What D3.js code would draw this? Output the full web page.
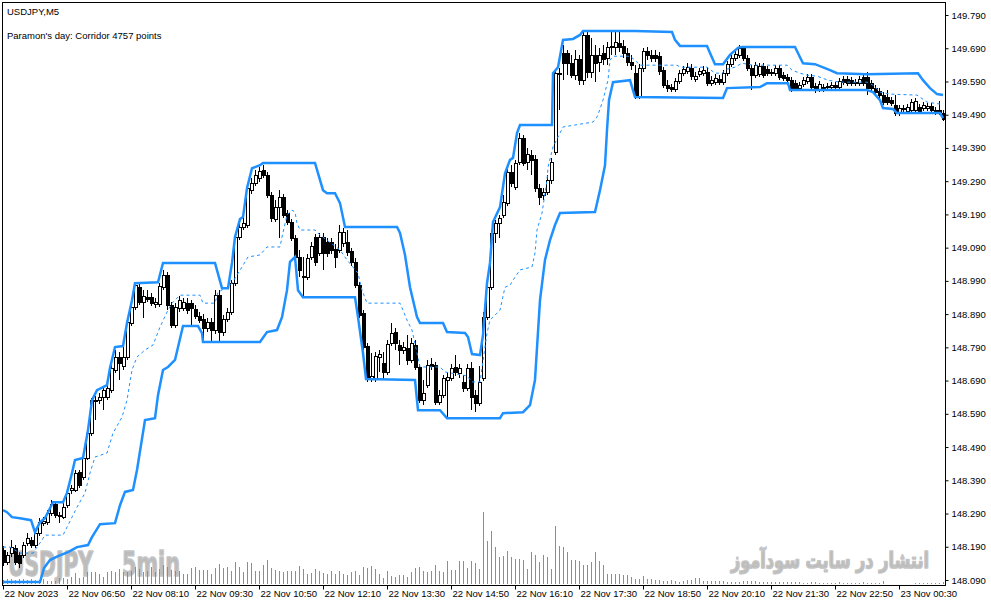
<!DOCTYPE html>
<html>
<head>
<meta charset="utf-8">
<script src="https://cdnjs.cloudflare.com/ajax/libs/d3/7.8.5/d3.min.js"></script>
<style>
body { margin: 0; background: #fff; }
svg text { font-family: "Liberation Sans", Arial, sans-serif; }
</style>
</head>
<body>
<svg id="chart" width="991" height="605"></svg>
<script>
// USDJPY M5, one row per bar: [open, high, low, close]
var candles = [
[148.180,148.192,148.132,148.144],[148.144,148.174,148.135,148.165],[148.171,148.210,148.159,148.189],[148.186,148.195,148.135,148.144],
[148.165,148.174,148.126,148.141],[148.165,148.204,148.156,148.195],[148.201,148.231,148.192,148.216],[148.210,148.219,148.186,148.195],
[148.195,148.240,148.186,148.231],[148.231,148.276,148.222,148.264],[148.261,148.279,148.252,148.267],[148.264,148.300,148.255,148.291],
[148.291,148.331,148.282,148.318],[148.318,148.324,148.276,148.285],[148.285,148.294,148.261,148.282],[148.279,148.321,148.273,148.309],
[148.315,148.367,148.306,148.352],[148.361,148.376,148.349,148.367],[148.361,148.421,148.355,148.412],[148.415,148.421,148.367,148.376],
[148.400,148.466,148.391,148.457],[148.457,148.541,148.451,148.532],[148.532,148.637,148.523,148.631],[148.631,148.643,148.571,148.628],
[148.631,148.652,148.619,148.640],[148.640,148.670,148.601,148.661],[148.640,148.677,148.631,148.668],[148.661,148.737,148.652,148.728],
[148.722,148.782,148.713,148.761],[148.761,148.776,148.692,148.743],[148.734,148.797,148.722,148.761],[148.761,148.878,148.752,148.866],
[148.863,148.923,148.854,148.911],[148.911,148.986,148.902,148.977],[148.971,148.983,148.917,148.926],[148.926,148.962,148.878,148.944],
[148.941,148.962,148.926,148.935],[148.941,148.953,148.914,148.923],[148.920,148.938,148.908,148.926],[148.920,148.983,148.911,148.974],
[148.971,149.023,148.962,149.008],[149.008,149.017,148.902,148.917],[148.917,148.926,148.848,148.857],[148.857,148.923,148.848,148.911],
[148.908,148.944,148.896,148.932],[148.908,148.938,148.899,148.926],[148.923,148.938,148.890,148.902],[148.923,148.932,148.854,148.908],
[148.905,148.917,148.875,148.884],[148.884,148.896,148.863,148.872],[148.875,148.890,148.806,148.848],[148.848,148.878,148.836,148.866],
[148.866,148.878,148.806,148.842],[148.842,148.962,148.830,148.947],[148.947,148.962,148.806,148.836],[148.836,148.887,148.824,148.875],
[148.875,148.908,148.866,148.896],[148.896,148.992,148.887,148.983],[148.983,149.131,148.974,149.122],[149.122,149.161,149.113,149.152],
[149.152,149.182,149.143,149.164],[149.158,149.278,149.149,149.269],[149.263,149.299,149.251,149.284],[149.284,149.323,149.275,149.308],
[149.299,149.332,149.287,149.320],[149.323,149.338,149.299,149.308],[149.308,149.317,149.239,149.248],[149.248,149.257,149.167,149.179],
[149.176,149.233,149.167,149.212],[149.212,149.263,149.119,149.242],[149.242,149.251,149.179,149.188],[149.194,149.203,149.158,149.167],
[149.167,149.176,149.110,149.119],[149.119,149.128,149.053,149.062],[149.062,149.083,149.002,149.023],[149.005,149.062,148.941,149.002],
[149.002,149.071,148.993,149.059],[149.062,149.107,149.053,149.095],[149.122,149.131,149.035,149.047],[149.074,149.134,149.065,149.122],
[149.122,149.134,149.023,149.074],[149.107,149.119,149.062,149.074],[149.107,149.119,149.071,149.083],[149.086,149.101,149.029,149.062],
[149.083,149.158,149.074,149.137],[149.104,149.149,149.092,149.137],[149.107,149.143,149.065,149.077],[149.080,149.089,149.035,149.047],
[149.047,149.059,148.968,148.977],[148.977,148.986,148.878,148.887],[148.893,148.902,148.782,148.791],[148.794,148.803,148.686,148.695],
[148.695,148.773,148.686,148.704],[148.695,148.776,148.686,148.764],[148.761,148.782,148.716,148.770],[148.743,148.776,148.692,148.716],
[148.716,148.812,148.707,148.800],[148.803,148.863,148.794,148.833],[148.836,148.848,148.782,148.803],[148.797,148.812,148.737,148.782],
[148.782,148.806,148.770,148.791],[148.788,148.827,148.737,148.752],[148.752,148.818,148.743,148.803],[148.797,148.812,148.722,148.731],
[148.731,148.740,148.622,148.631],[148.631,148.692,148.616,148.652],[148.677,148.752,148.668,148.737],[148.740,148.758,148.722,148.734],
[148.737,148.746,148.616,148.625],[148.625,148.661,148.616,148.646],[148.646,148.707,148.637,148.698],[148.692,148.716,148.577,148.701],
[148.698,148.740,148.689,148.728],[148.731,148.767,148.704,148.716],[148.713,148.740,148.698,148.728],[148.686,148.707,148.655,148.668],
[148.668,148.740,148.658,148.728],[148.728,148.746,148.601,148.640],[148.646,148.661,148.595,148.622],[148.622,148.734,148.613,148.686],
[148.698,148.896,148.689,148.881],[148.881,148.983,148.872,148.971],[148.971,149.143,148.962,149.134],[149.134,149.173,149.104,149.164],
[149.164,149.188,149.119,149.179],[149.188,149.248,149.179,149.227],[149.224,149.329,149.215,149.317],[149.317,149.338,149.272,149.284],
[149.272,149.353,149.263,149.344],[149.347,149.435,149.338,149.420],[149.420,149.429,149.335,149.344],[149.347,149.390,149.323,149.372],
[149.369,149.384,149.308,149.354],[149.357,149.369,149.257,149.269],[149.269,149.281,149.218,149.242],[149.248,149.269,149.233,149.257],
[149.257,149.308,149.248,149.293],[149.293,149.360,149.281,149.348],[149.378,149.624,149.369,149.615],[149.615,149.630,149.504,149.612],
[149.676,149.700,149.594,149.645],[149.676,149.685,149.609,149.645],[149.645,149.670,149.600,149.609],[149.609,149.685,149.594,149.657],
[149.657,149.670,149.579,149.594],[149.594,149.739,149.579,149.730],[149.730,149.745,149.600,149.618],[149.618,149.721,149.600,149.670],
[149.670,149.700,149.588,149.645],[149.648,149.691,149.618,149.670],[149.676,149.700,149.639,149.658],[149.660,149.709,149.639,149.694],
[149.697,149.739,149.670,149.694],[149.694,149.739,149.670,149.709],[149.706,149.745,149.679,149.694],[149.697,149.715,149.660,149.676],
[149.676,149.691,149.636,149.648],[149.648,149.670,149.624,149.639],[149.615,149.639,149.537,149.543],[149.543,149.642,149.537,149.630],
[149.630,149.691,149.618,149.682],[149.682,149.694,149.654,149.670],[149.670,149.685,149.648,149.660],[149.670,149.685,149.648,149.660],
[149.667,149.679,149.609,149.621],[149.624,149.633,149.570,149.579],[149.579,149.594,149.558,149.570],[149.573,149.582,149.558,149.567],
[149.567,149.600,149.558,149.591],[149.591,149.624,149.582,149.615],[149.615,149.636,149.606,149.627],[149.621,149.645,149.612,149.633],
[149.630,149.642,149.594,149.606],[149.597,149.618,149.588,149.606],[149.612,149.630,149.603,149.621],[149.615,149.636,149.606,149.624],
[149.618,149.630,149.576,149.585],[149.585,149.606,149.576,149.594],[149.588,149.612,149.579,149.600],[149.597,149.609,149.579,149.588],
[149.588,149.624,149.579,149.615],[149.615,149.651,149.606,149.642],[149.642,149.670,149.633,149.660],[149.660,149.682,149.651,149.673],
[149.670,149.700,149.660,149.691],[149.691,149.697,149.651,149.660],[149.660,149.670,149.621,149.630],[149.630,149.639,149.564,149.609],
[149.609,149.648,149.600,149.639],[149.612,149.645,149.603,149.636],[149.636,149.645,149.600,149.609],[149.627,149.636,149.606,149.615],
[149.618,149.627,149.606,149.615],[149.615,149.639,149.606,149.630],[149.630,149.639,149.594,149.603],[149.609,149.618,149.591,149.600],
[149.603,149.612,149.585,149.594],[149.594,149.603,149.558,149.567],[149.585,149.594,149.561,149.570],[149.570,149.588,149.561,149.579],
[149.582,149.603,149.573,149.594],[149.591,149.612,149.582,149.603],[149.603,149.612,149.564,149.573],[149.576,149.585,149.555,149.564],
[149.567,149.591,149.558,149.582],[149.573,149.582,149.558,149.567],[149.573,149.585,149.564,149.576],[149.573,149.588,149.564,149.579],
[149.579,149.588,149.564,149.573],[149.573,149.600,149.564,149.591],[149.597,149.606,149.579,149.588],[149.597,149.606,149.576,149.585],
[149.594,149.603,149.576,149.585],[149.588,149.597,149.576,149.585],[149.585,149.606,149.576,149.597],[149.603,149.612,149.576,149.585],
[149.603,149.618,149.549,149.570],[149.585,149.594,149.561,149.570],[149.570,149.579,149.549,149.558],[149.561,149.570,149.540,149.549],
[149.549,149.558,149.519,149.528],[149.543,149.564,149.519,149.528],[149.534,149.543,149.516,149.525],[149.519,149.549,149.486,149.495],
[149.495,149.519,149.486,149.510],[149.510,149.519,149.498,149.507],[149.501,149.522,149.492,149.513],[149.504,149.537,149.495,149.528],
[149.504,149.540,149.495,149.531],[149.513,149.522,149.492,149.501],[149.510,149.528,149.501,149.519],[149.510,149.525,149.501,149.516],
[149.516,149.525,149.495,149.504],[149.504,149.513,149.489,149.498],[149.504,149.531,149.489,149.498],[149.495,149.504,149.471,149.477]
];

// tick volume per bar
var volumes = [
80,100,100,80,100,100,80,100,80,80,100,60,60,60,120,120,100,140,220,120,
140,240,240,240,200,140,240,260,240,300,240,240,260,340,300,240,260,340,240,300,
380,340,280,260,260,200,200,320,340,280,280,280,200,320,400,320,340,260,440,340,
240,440,420,260,260,380,480,320,280,260,240,260,260,260,360,300,200,220,300,260,
220,200,260,200,260,200,180,240,260,180,340,320,360,300,200,120,260,160,140,180,
180,140,240,320,340,260,240,260,380,260,240,460,280,280,460,460,320,460,420,300,
1440,860,1060,740,540,560,660,540,500,500,480,300,640,580,440,580,540,300,1160,760,
740,640,480,480,460,380,380,440,640,460,380,200,200,200,200,180,180,140,100,100,
160,100,100,80,80,60,60,80,60,40,60,80,80,120,120,60,60,60,60,60,
60,40,40,40,40,60,60,60,60,40,40,40,40,40,40,40,40,40,40,40,
20,20,40,40,20,20,20,20,20,40,20,20,20,20,20,40,20,20,20,20,
60,0,0,0,0,0,0,0,20,20,20,20,20,20,20,40
];

// corridor lines, vertices as [bar, price]
var upperBand = [
[0,148.300],[1,148.294],[2.25,148.279],[4.25,148.276],[7,148.270],[8,148.234],[9.25,148.264],[10.5,148.276],
[11.75,148.306],[12.5,148.324],[15,148.324],[16,148.352],[17.25,148.412],[18,148.451],[20,148.457],[21.25,148.541],
[22.25,148.631],[23.5,148.661],[26,148.676],[26.75,148.728],[28,148.791],[30,148.794],[31,148.863],[32.25,148.932],
[33,148.983],[38.75,148.986],[40,149.044],[53,149.044],[54.75,148.968],[56.25,148.968],[57.25,149.044],[58,149.122],
[59.25,149.176],[60,149.182],[61,149.269],[62.25,149.329],[64.25,149.338],[65,149.345],[78,149.345],[80,149.263],
[81,149.254],[83,149.254],[84.25,149.224],[85.5,149.152],[98.5,149.152],[99.25,149.134],[100.5,149.068],[101.75,148.971],
[103.5,148.881],[104.25,148.863],[110,148.863],[111,148.836],[115.5,148.833],[116.25,148.821],[117.25,148.770],[119.25,148.767],
[120,148.827],[121,148.983],[121.75,149.044],[122.5,149.167],[124.25,149.212],[125.5,149.314],[126.75,149.354],[127.5,149.360],
[128.5,149.435],[129.25,149.459],[137.25,149.459],[137.5,149.615],[138.75,149.633],[140,149.715],[142.5,149.718],[144.25,149.730],
[145,149.742],[158,149.742],[167.25,149.739],[168,149.715],[169.25,149.697],[176,149.697],[176.75,149.676],[178,149.642],
[180,149.642],[181.75,149.670],[183.75,149.691],[184.75,149.694],[198,149.694],[199.25,149.663],[200,149.645],[203,149.642],
[206.75,149.624],[208.5,149.615],[216,149.612],[228.75,149.615],[230,149.594],[231.75,149.570],[233.5,149.552],[235,149.549]
];
var lowerBand = [
[0,148.084],[9.25,148.084],[10.25,148.126],[11.75,148.150],[13.75,148.162],[16.25,148.174],[18.5,148.189],[21.25,148.195],
[22.25,148.219],[24.25,148.258],[28,148.261],[29.25,148.315],[30.5,148.355],[32.5,148.361],[33.5,148.421],[35.5,148.571],
[38,148.577],[38.75,148.646],[40,148.722],[41.25,148.731],[43,148.752],[45,148.854],[48.75,148.854],[49.75,148.833],
[50,148.806],[64.25,148.806],[66,148.836],[68.5,148.842],[69.75,148.881],[71,148.962],[71.75,149.047],[73,149.062],
[73.75,148.962],[75,148.941],[88,148.941],[88.75,148.881],[90,148.773],[90.75,148.695],[103,148.692],[103.75,148.601],
[109.25,148.601],[111,148.577],[124.25,148.577],[125,148.592],[130,148.595],[131.75,148.616],[133,148.692],[134.25,148.932],
[135.5,149.053],[136.75,149.113],[138,149.158],[139.25,149.194],[148,149.197],[149.25,149.263],[150.5,149.338],[151,149.444],
[151.5,149.534],[152.5,149.588],[156.75,149.594],[158,149.543],[180,149.540],[181,149.570],[189.25,149.573],[191,149.585],
[196.25,149.585],[196.75,149.564],[216,149.564],[217.5,149.558],[219.25,149.534],[220,149.510],[222.5,149.507],[223.5,149.495],
[234.25,149.495],[235,149.480]
];
var midBand = [
[0,148.189],[1.75,148.189],[4.25,148.171],[7.5,148.171],[8.5,148.189],[9.75,148.210],[10.5,148.225],[15,148.225],
[16,148.249],[18.5,148.309],[20.5,148.352],[21.75,148.412],[23,148.460],[26,148.472],[27.5,148.532],[29.75,148.580],
[31,148.631],[32.25,148.722],[33.5,148.761],[35.5,148.782],[37.5,148.797],[39.25,148.851],[41,148.896],[42.25,148.923],
[44.25,148.947],[49.25,148.947],[50,148.923],[53,148.923],[53.75,148.956],[56,148.971],[57.25,148.983],[58.5,149.008],
[59.75,149.032],[61.25,149.062],[64.25,149.068],[66,149.092],[69.25,149.092],[69.75,149.122],[71,149.188],[72.25,149.203],
[73,149.197],[73.5,149.164],[74.25,149.143],[78,149.143],[79.25,149.128],[84.25,149.083],[86,149.053],[88.75,149.013],
[89.75,148.962],[91,148.923],[99.25,148.923],[100,148.902],[101,148.872],[102.25,148.842],[103.5,148.773],[104.25,148.731],
[109.25,148.731],[110.5,148.716],[116,148.704],[117.25,148.686],[119.25,148.686],[121,148.833],[121.75,148.872],[124.25,148.902],
[125.5,148.971],[126.75,148.977],[127.5,148.992],[129.25,149.023],[132.25,149.032],[133,149.074],[133.5,149.143],[134.75,149.194],
[136,149.293],[136.25,149.332],[137.5,149.393],[140,149.453],[147.5,149.468],[148.5,149.483],[149.25,149.507],[150,149.534],
[151.25,149.594],[151.75,149.654],[152.5,149.666],[156.75,149.666],[158,149.654],[159.25,149.639],[168.5,149.639],[169.25,149.633],
[176,149.633],[178,149.615],[179.75,149.615],[181,149.627],[183,149.633],[184.75,149.645],[187.5,149.639],[196,149.639],
[197.25,149.624],[199.25,149.615],[201,149.609],[203.5,149.606],[206.25,149.594],[209.25,149.588],[216,149.588],[217.5,149.579],
[219.25,149.558],[221.75,149.552],[228.5,149.549],[231,149.528],[234.25,149.522]
];

var timeLabels = ["22 Nov 2023","22 Nov 06:50","22 Nov 08:10","22 Nov 09:30","22 Nov 10:50","22 Nov 12:10","22 Nov 13:30",
  "22 Nov 14:50","22 Nov 16:10","22 Nov 17:30","22 Nov 18:50","22 Nov 20:10","22 Nov 21:30","22 Nov 22:50","23 Nov 00:30"];
var priceTicks = [148.090,148.190,148.290,148.390,148.490,148.590,148.690,148.790,148.890,148.990,
  149.090,149.190,149.290,149.390,149.490,149.590,149.690,149.790];

var svg = d3.select("#chart");
var plotLeft = 3, plotRight = 945, plotTop = 3, plotBottom = 585;

var x = d3.scaleLinear().domain([0, candles.length - 1]).range([3, 943]);
var y = d3.scaleLinear().domain([148.09, 149.79]).range([580, 15]);
var yVol = d3.scaleLinear().domain([0, 2000]).range([584, 484]);

svg.append("rect").attr("width", 991).attr("height", 605).attr("fill", "#fff");

svg.append("defs").append("clipPath").attr("id", "plot")
    .append("rect").attr("x", plotLeft).attr("y", plotTop)
    .attr("width", plotRight - plotLeft).attr("height", plotBottom - plotTop);

var plot = svg.append("g").attr("clip-path", "url(#plot)");

// watermark text, squeezed horizontally to the width it has in the picture
function watermark(str, x0, x1, baseline, size, family) {
    var t = plot.append("text")
        .style("font-family", family)
        .style("font-size", size + "px").style("font-weight", "bold")
        .attr("fill", "#bcbcbc").attr("stroke", "#c4c4c4").attr("stroke-width", 1.6)
        .attr("stroke-linejoin", "round")
        .text(str);
    var w = t.node().getComputedTextLength();
    t.attr("transform", "translate(" + x0 + "," + baseline + ") scale(" + ((x1 - x0) / w) + ",1)");
}
watermark("USDJPY", 8, 93, 576, 33, "'DejaVu Sans', sans-serif");
watermark("5min", 122, 180, 576, 33, "'DejaVu Sans', sans-serif");
watermark("انتشار در سایت سودآموز", 731, 929, 568, 22, "'DejaVu Sans', sans-serif");

// volumes
plot.append("g").selectAll("line")
    .data(volumes)
    .enter().append("line")
    .attr("x1", function(d, i) { return Math.round(x(i)) + 0.5; })
    .attr("x2", function(d, i) { return Math.round(x(i)) + 0.5; })
    .attr("y1", yVol(0))
    .attr("y2", function(d) { return yVol(d); })
    .attr("stroke", "#32cd32")
    .attr("stroke-width", 1)
    .style("shape-rendering", "crispEdges");

// candles
var bars = plot.append("g").selectAll("g")
    .data(candles)
    .enter().append("g")
    .style("shape-rendering", "crispEdges");

bars.append("line")
    .attr("x1", function(d, i) { return Math.round(x(i)) + 0.5; })
    .attr("x2", function(d, i) { return Math.round(x(i)) + 0.5; })
    .attr("y1", function(d) { return y(d[1]); })
    .attr("y2", function(d) { return y(d[2]); })
    .attr("stroke", "#000");

bars.append("rect")
    .attr("x", function(d, i) { return Math.round(x(i)) - 1; })
    .attr("y", function(d) { return Math.round(y(Math.max(d[0], d[3]))) + 0.5; })
    .attr("width", 3)
    .attr("height", function(d) { return Math.max(0, Math.round(Math.abs(y(d[0]) - y(d[3])))); })
    .attr("fill", function(d) { return d[3] >= d[0] ? "#fff" : "#000"; })
    .attr("stroke", "#000")
    .attr("stroke-width", 1);

// corridor
var line = d3.line()
    .x(function(d) { return x(d[0]); })
    .y(function(d) { return y(d[1]); });

plot.append("path").datum(upperBand)
    .attr("fill", "none").attr("stroke", "#1e90ff").attr("stroke-width", 2.5)
    .attr("d", line);
plot.append("path").datum(lowerBand)
    .attr("fill", "none").attr("stroke", "#1e90ff").attr("stroke-width", 2.5)
    .attr("d", line);
plot.append("path").datum(midBand)
    .attr("fill", "none").attr("stroke", "#1e90ff").attr("stroke-width", 1)
    .style("stroke-dasharray", "3, 3")
    .attr("d", line);

// frame
svg.append("rect")
    .attr("x", plotLeft - 0.5).attr("y", plotTop - 0.5)
    .attr("width", plotRight - plotLeft + 1).attr("height", plotBottom - plotTop + 1)
    .attr("fill", "none").attr("stroke", "#000").attr("stroke-width", 1)
    .style("shape-rendering", "crispEdges");

// price axis
var yAxis = d3.axisRight(y)
    .tickValues(priceTicks)
    .tickSize(3)
    .tickPadding(3)
    .tickFormat(function(d) { return d.toFixed(3); });

svg.append("g")
    .attr("transform", "translate(" + (plotRight + 0.5) + ",0)")
    .call(yAxis)
    .call(function(g) { g.select(".domain").remove(); })
    .call(function(g) {
        g.selectAll("text").style("font-size", "9.5px").attr("fill", "#000")
            .style("font-family", "'Liberation Sans', Arial, sans-serif");
    });

// time axis, a label every 16 bars
var xAxis = d3.axisBottom(x)
    .tickValues(timeLabels.map(function(t, i) { return i * 16; }))
    .tickSize(4)
    .tickFormat(function(d, i) { return timeLabels[i]; });

svg.append("g")
    .attr("transform", "translate(0," + (plotBottom + 0.5) + ")")
    .call(xAxis)
    .call(function(g) { g.select(".domain").remove(); })
    .call(function(g) {
        g.selectAll("text").attr("text-anchor", "start").attr("dx", "1px").attr("y", 5)
            .style("font-size", "9.5px").attr("fill", "#000")
            .style("font-family", "'Liberation Sans', Arial, sans-serif");
    });

// header
svg.append("text").attr("x", 7).attr("y", 15)
    .style("font-size", "9.5px").text("USDJPY,M5");
svg.append("text").attr("x", 7).attr("y", 39)
    .style("font-size", "9.5px").text("Paramon's day: Corridor 4757 points");
</script>
</body>
</html>
